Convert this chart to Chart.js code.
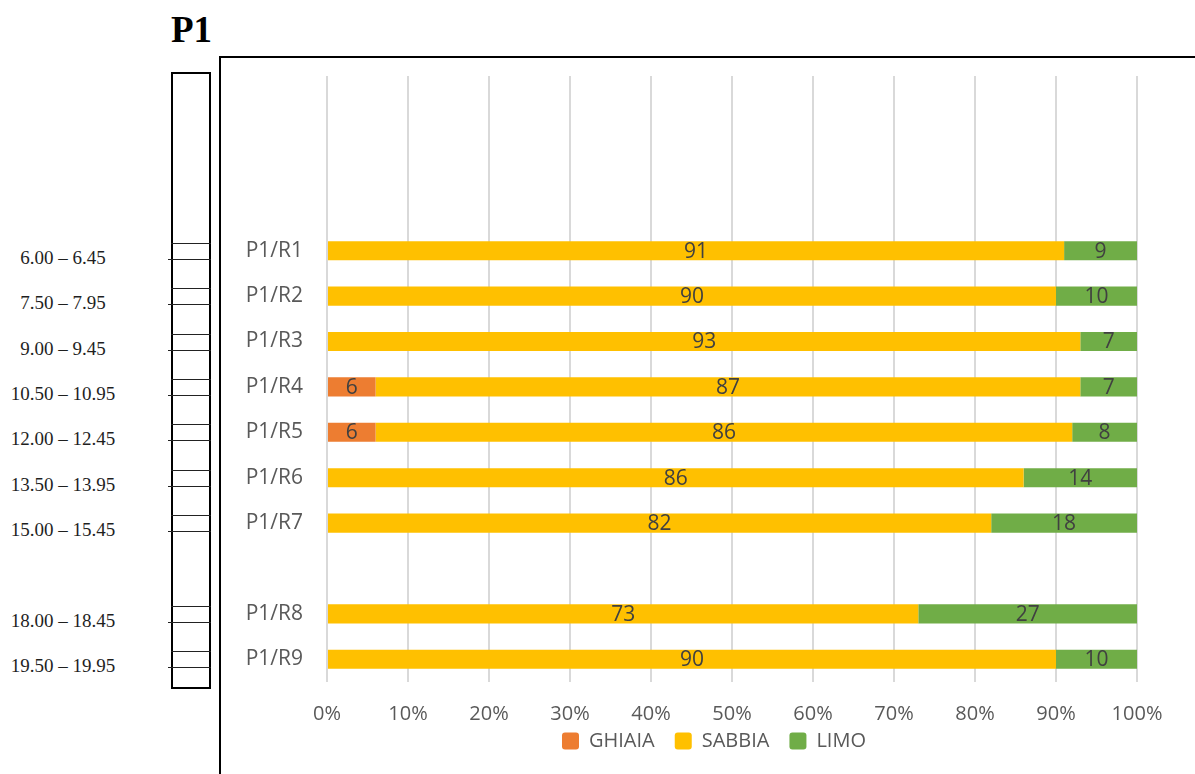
<!DOCTYPE html>
<html>
<head>
<meta charset="utf-8">
<title>P1</title>
<script src="https://cdn.jsdelivr.net/npm/chart.js@4.4.1/dist/chart.umd.min.js"></script>
<style>
    html, body { margin: 0; padding: 0; background: #fff; overflow: hidden; }
    body { width: 1195px; height: 774px; position: relative; }
    #title { position: absolute; left: 171px; top: 11px; font: bold 37px/37px "Liberation Serif", "Times New Roman", serif; color: #000; }
    #frame { position: absolute; left: 219px; top: 56px; width: 1000px; height: 800px; border: 2px solid #000; box-sizing: border-box; }
    #wrap { position: absolute; left: 221px; top: 58px; width: 974px; height: 716px; overflow: hidden; }
    #column { position: absolute; left: 171px; top: 72px; width: 40px; height: 617px; border: 2px solid #000; box-sizing: border-box; }
    .rule { position: absolute; height: 1px; background: #222; }
    .depth { position: absolute; left: 0; width: 126px; text-align: center; font: 19px/20px "Liberation Serif", "Times New Roman", serif; color: #1f1f1f; white-space: nowrap; }
</style>
</head>
<body>
<div id="title">P1</div>
<div id="column"></div>
<div id="depths"></div>
<div id="frame"></div>
<div id="wrap"><canvas id="chart" width="974" height="716"></canvas></div>
<script>
    const categories = ['P1/R1', 'P1/R2', 'P1/R3', 'P1/R4', 'P1/R5', 'P1/R6', 'P1/R7', '', 'P1/R8', 'P1/R9'];
    const depthLabels = ['6.00 – 6.45', '7.50 – 7.95', '9.00 – 9.45', '10.50 – 10.95', '12.00 – 12.45', '13.50 – 13.95', '15.00 – 15.45', '', '18.00 – 18.45', '19.50 – 19.95'];
    const ghiaia = [0, 0, 0, 6, 6, 0, 0, null, 0, 0];
    const sabbia = [91, 90, 93, 87, 86, 86, 82, null, 73, 90];
    const limo = [9, 10, 7, 7, 8, 14, 18, null, 27, 10];

    const TEXT_GREY = '#595959';
    const GRID_GREY = '#d9d9d9';
    const FONT = '"Open Sans", "Liberation Sans", sans-serif';
    const CANVAS_TOP = 58;   // canvas offset on the page
    const GRID_TOP = 18;     // gridlines start above the bars (canvas px)

    // value labels in the middle of each segment
    const segmentLabels = {
        id: 'segmentLabels',
        afterDatasetsDraw(chart) {
            const ctx = chart.ctx;
            ctx.save();
            ctx.font = '21px ' + FONT;
            ctx.fillStyle = '#404040';
            ctx.textAlign = 'center';
            ctx.textBaseline = 'middle';
            chart.data.datasets.forEach(function(ds, di) {
                chart.getDatasetMeta(di).data.forEach(function(bar, i) {
                    const v = ds.data[i];
                    if (!v) return;
                    const p = bar.getCenterPoint();
                    ctx.fillText(String(v), p.x, p.y + 1);
                });
            });
            ctx.restore();
        }
    };

    // Excel keeps the gridlines running up above the first category
    const tallGrid = {
        id: 'tallGrid',
        beforeDatasetsDraw(chart) {
            const x = chart.scales.x;
            const ctx = chart.ctx;
            ctx.save();
            ctx.strokeStyle = GRID_GREY;
            ctx.lineWidth = 2;
            x.ticks.forEach(function(t) {
                const px = Math.round(x.getPixelForValue(t.value));
                ctx.beginPath();
                ctx.moveTo(px, GRID_TOP);
                ctx.lineTo(px, chart.chartArea.top);
                ctx.stroke();
            });
            ctx.restore();
        }
    };

    const chart = new Chart(document.getElementById('chart'), {
        type: 'bar',
        data: {
            labels: categories,
            datasets: [
                { label: 'GHIAIA', data: ghiaia, backgroundColor: '#ED7D31' },
                { label: 'SABBIA', data: sabbia, backgroundColor: '#FFC000' },
                { label: 'LIMO', data: limo, backgroundColor: '#70AD47' }
            ]
        },
        options: {
            indexAxis: 'y',
            responsive: false,
            animation: false,
            devicePixelRatio: 1,
            categoryPercentage: 1,
            barPercentage: 0.42,
            layout: { padding: { left: 12, right: 0, top: 170, bottom: 13 } },
            plugins: {
                tooltip: { enabled: false },
                legend: {
                    position: 'bottom',
                    labels: { color: TEXT_GREY, font: { family: FONT, size: 20 }, boxWidth: 17, boxHeight: 17, padding: 20, useBorderRadius: true, borderRadius: 3 }
                }
            },
            scales: {
                x: {
                    stacked: true, min: 0, max: 100,
                    // mirror turns off label clipping, the negative padding pushes the labels
                    // below the plot while the axis box itself stays thin (see afterFit)
                    ticks: { stepSize: 10, mirror: true, color: TEXT_GREY, font: { family: FONT, size: 20, lineHeight: 1.2 }, padding: -44.5, callback: function(v) { return v + '%'; } },
                    grid: { color: GRID_GREY, lineWidth: 2, drawTicks: false },
                    border: { display: false },
                    afterFit: function(scale) { scale.height = 29; }
                },
                y: {
                    stacked: true,
                    ticks: { color: TEXT_GREY, font: { family: FONT, size: 21 }, padding: 24 },
                    grid: { display: false, drawTicks: false },
                    border: { display: false },
                    afterFit: function(scale) { scale.width = 94; }
                },
                // empty strip on the right so the plot stops short of the frame edge
                yRight: {
                    type: 'category', position: 'right',
                    ticks: { display: false },
                    grid: { display: false, drawTicks: false },
                    border: { display: false },
                    afterFit: function(scale) { scale.width = 58; }
                }
            }
        },
        plugins: [tallGrid, segmentLabels]
    });

    // borehole column and depth labels, lined up with the bars
    const depthBox = document.getElementById('depths');
    categories.forEach(function(cat, i) {
        if (!cat) return;
        const yc = chart.scales.y.getPixelForValue(i) + CANVAS_TOP;
        const top = document.createElement('div');
        top.className = 'rule';
        top.style.cssText = 'left:171px;width:40px;top:' + Math.round(yc - 8) + 'px;';
        const bottom = document.createElement('div');
        bottom.className = 'rule';
        bottom.style.cssText = 'left:168px;width:43px;top:' + Math.round(yc + 8) + 'px;';
        document.body.appendChild(top);
        document.body.appendChild(bottom);
        const lbl = document.createElement('div');
        lbl.className = 'depth';
        lbl.textContent = depthLabels[i];
        lbl.style.top = Math.round(yc + 7 - 10) + 'px';
        depthBox.appendChild(lbl);
    });
</script>
</body>
</html>
